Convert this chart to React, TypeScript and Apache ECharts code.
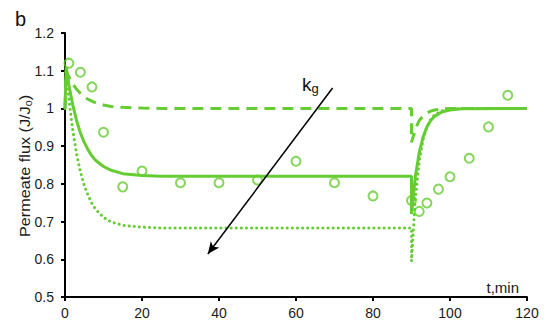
import React, { useEffect, useRef } from "react";
import * as echarts from "echarts";

const GREEN = "#66CC33";

// Experimental points (t, J/J0)
const expT = [1, 4, 7, 10, 15, 20, 30, 40, 50, 60, 70, 80, 90, 92, 94, 97, 100, 105, 110, 115];
const expV = [1.12, 1.096, 1.057, 0.937, 0.792, 0.834, 0.803, 0.803, 0.81, 0.86, 0.803, 0.768, 0.756, 0.727, 0.749, 0.786, 0.819, 0.868, 0.951, 1.035];

// Model curves: [t, J/J0]
const solidCurve: [number, number][] = [
  [0, 1.0], [0.3, 1.11], [1, 1.063], [2, 1.01], [3, 0.968], [4, 0.935], [5, 0.91], [6, 0.89],
  [7, 0.874], [8, 0.862], [10, 0.846], [12, 0.836], [15, 0.827], [20, 0.822], [25, 0.82],
  [90, 0.82], [90, 0.72], [91, 0.819], [92, 0.883], [93, 0.924], [94, 0.951], [95, 0.968],
  [96, 0.979], [98, 0.991], [100, 0.996], [103, 0.999], [120, 1.0],
];
const dashedCurve: [number, number][] = [
  [0, 1.0], [0.3, 1.1], [1, 1.084], [2, 1.065], [3, 1.051], [4, 1.04], [5, 1.031], [6, 1.024],
  [8, 1.015], [10, 1.009], [12, 1.005], [15, 1.003], [20, 1.001], [25, 1.0],
  [90, 1.0], [90, 0.91], [91, 0.945], [92, 0.968], [93, 0.98], [94, 0.988], [95, 0.993],
  [96, 0.996], [98, 0.999], [100, 1.0], [120, 1.0],
];
const dottedCurve: [number, number][] = [
  [0, 1.0], [0.3, 1.1], [1, 1.026], [2, 0.943], [3, 0.88], [4, 0.832], [5, 0.796], [6, 0.769],
  [7, 0.748], [8, 0.732], [10, 0.711], [12, 0.699], [15, 0.69], [20, 0.685], [25, 0.683],
  [90, 0.683], [90, 0.595], [91, 0.761], [92, 0.859], [93, 0.917], [94, 0.951], [95, 0.971],
  [96, 0.983], [98, 0.994], [100, 0.998], [103, 1.0], [120, 1.0],
];

// Annotation arrow (kg direction), in data coordinates
const arrowStart: [number, number] = [69.5, 1.054];
const arrowEnd: [number, number] = [37.1, 0.614];

const xTicks = { min: 0, max: 120, interval: 20 };
const yTicks = { min: 0.5, max: 1.2, interval: 0.1 };

const FONT = "Arial, 'Liberation Sans', sans-serif";

export default function App() {
  const ref = useRef<HTMLDivElement>(null);
  useEffect(() => {
    if (!ref.current) return;
    const chart = echarts.init(ref.current, null, { renderer: "svg" });
    const axisCommon = {
      axisLine: { show: true, lineStyle: { color: "#000", width: 2 } },
      axisTick: { show: true, length: 4, lineStyle: { color: "#000", width: 2 } },
      splitLine: { show: false },
    };
    chart.setOption({
      animation: false,
      backgroundColor: "#fff",
      grid: { left: 65, right: 23, top: 33, bottom: 33, containLabel: false },
      xAxis: {
        type: "value",
        ...xTicks,
        ...axisCommon,
        axisLabel: { color: "#1a1a1a", fontSize: 14, fontFamily: FONT, margin: 9 },
      },
      yAxis: {
        type: "value",
        ...yTicks,
        ...axisCommon,
        axisLabel: { color: "#1a1a1a", fontSize: 14, fontFamily: FONT, margin: 11 },
      },
      graphic: [
        { type: "text", left: 15, top: 9, style: { text: "b", font: `20px ${FONT}`, fill: "#111" } },
        {
          type: "text",
          x: 25,
          y: 166,
          rotation: Math.PI / 2,
          scaleX: 1.12,
          style: {
            text: "{a|Permeate flux (J/J}{b|0}{a|)}",
            align: "center",
            verticalAlign: "middle",
            rich: {
              a: { fontSize: 14.5, fontFamily: FONT, fill: "#1a1a1a", lineHeight: 17 },
              b: { fontSize: 9.5, fontFamily: FONT, fill: "#1a1a1a", verticalAlign: "bottom", lineHeight: 10, padding: [4, 0, 0, 0] },
            },
          },
        },
        {
          type: "text",
          x: 519,
          y: 287,
          style: { text: "t,min", font: `15px ${FONT}`, fill: "#1a1a1a", align: "right", verticalAlign: "middle" },
        },
        {
          type: "text",
          x: 302,
          y: 84,
          style: {
            text: "{a|k}{b|g}",
            verticalAlign: "middle",
            rich: {
              a: { fontSize: 19, fontFamily: FONT, fill: "#111", lineHeight: 21 },
              b: { fontSize: 13, fontFamily: FONT, fill: "#111", verticalAlign: "bottom", lineHeight: 12, padding: [6, 0, 0, 0] },
            },
          },
        },
      ],
      series: [
        {
          type: "line",
          data: dashedCurve,
          showSymbol: false,
          lineStyle: { color: GREEN, width: 3, type: [11, 7] },
          z: 2,
        },
        {
          type: "line",
          data: dottedCurve,
          showSymbol: false,
          lineStyle: { color: GREEN, width: 3, type: [0.1, 5], cap: "round" },
          z: 2,
        },
        {
          type: "line",
          data: solidCurve,
          showSymbol: false,
          lineStyle: { color: GREEN, width: 3 },
          z: 2,
          markLine: {
            silent: true,
            symbol: ["none", "arrow"],
            symbolSize: [8, 12],
            label: { show: false },
            lineStyle: { color: "#000", width: 1.5, type: "solid" },
            data: [[{ coord: arrowStart }, { coord: arrowEnd }]],
          },
        },
        {
          type: "scatter",
          data: expT.map((t, i) => [t, expV[i]]),
          symbol: "circle",
          symbolSize: 9,
          itemStyle: { color: "rgba(255,255,255,0)", borderColor: GREEN, borderWidth: 2 },
          z: 3,
        },
      ],
    });
    return () => chart.dispose();
  }, []);
  return <div ref={ref} style={{ position: "fixed", left: 0, top: 0, width: 550, height: 330 }} />;
}
